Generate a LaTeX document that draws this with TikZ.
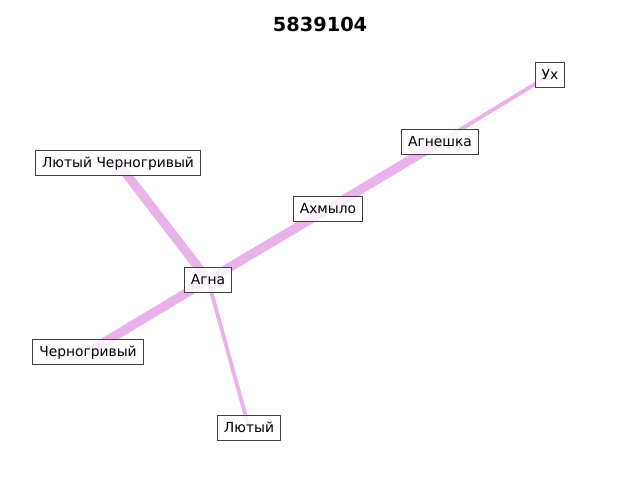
\documentclass[tikz,border=0pt]{standalone}
\usepackage{fontspec}
\setmainfont{DejaVu Sans}
\begin{document}
\begin{tikzpicture}[x=0.01in,y=-0.01in,
  edgeline/.style={draw={rgb,255:red,233;green,179;blue,234},line cap=butt},
  thickedge/.style={edgeline,line width=6.6pt},
  thinedge/.style={edgeline,line width=2.8pt},
  person/.style={draw={rgb,255:red,64;green,64;blue,64},line width=0.7pt,
    fill=white,fill opacity=0.8,text opacity=1,inner xsep=4.6pt,inner ysep=3pt,
    text height=9pt,text depth=2.8pt,font=\fontsize{10pt}{12pt}\selectfont}]
\useasboundingbox (0,0) rectangle (640,480);
\node[font=\fontsize{14pt}{16pt}\selectfont\bfseries] (title) at (320,24) {5839104};
% node centres, used as edge end points
\coordinate (cUx) at (550,75);
\coordinate (cAgneshka) at (440,142);
\coordinate (cAhmylo) at (328,209);
\coordinate (cAgna) at (208,280);
\coordinate (cLCh) at (118,163);
\coordinate (cCh) at (88,352);
\coordinate (cL) at (249,428);
% edges
\draw[thinedge] (cUx) -- (cAgneshka);
\draw[thickedge] (cAgneshka) -- (cAhmylo);
\draw[thickedge] (cAhmylo) -- (cAgna);
\draw[thickedge] (cAgna) -- (cCh);
\draw[thickedge] (cAgna) -- (cLCh);
\draw[thinedge] (cAgna) -- (cL);
% labels
\node[person] (Ux) at (cUx) {Ух};
\node[person] (Agneshka) at (cAgneshka) {Агнешка};
\node[person] (Ahmylo) at (cAhmylo) {Ахмыло};
\node[person] (Agna) at (cAgna) {Агна};
\node[person] (LCh) at (cLCh) {Лютый Черногривый};
\node[person] (Ch) at (cCh) {Черногривый};
\node[person] (L) at (cL) {Лютый};
\end{tikzpicture}
\end{document}
